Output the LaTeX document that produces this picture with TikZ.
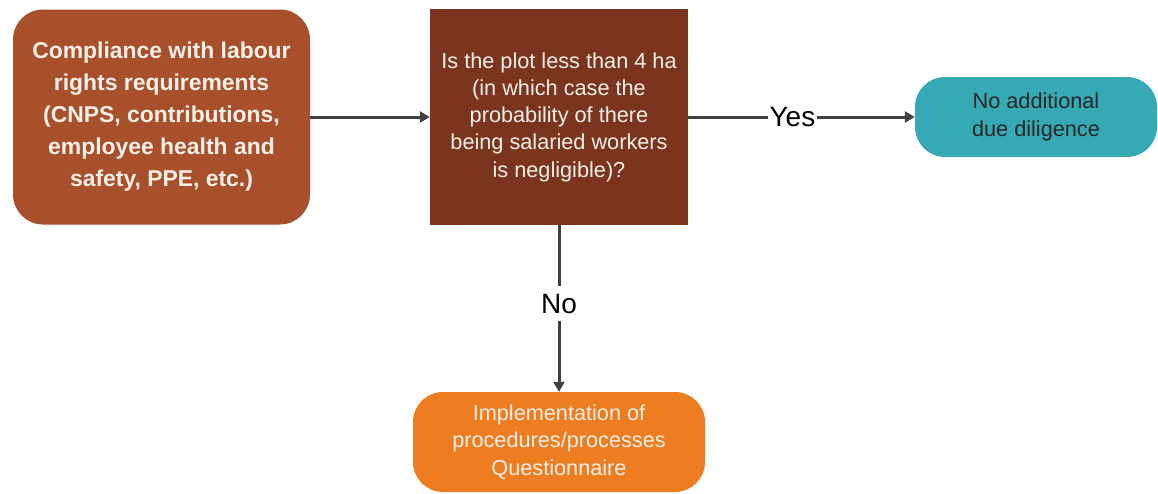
\documentclass[tikz,border=0pt]{standalone}
\usepackage{fontspec}
\setmainfont{Liberation Sans}
\usetikzlibrary{arrows.meta}
\definecolor{rust}{RGB}{168,79,44}
\definecolor{darkbrown}{RGB}{123,52,29}
\definecolor{tealbox}{RGB}{53,170,181}
\definecolor{orangebox}{RGB}{238,125,34}
\definecolor{arrowgray}{RGB}{64,64,64}
\definecolor{cream}{RGB}{250,240,232}
\tikzset{
  box/.style={draw=none, align=center, inner sep=0pt, anchor=center},
  conn/.style={draw=arrowgray, line width=3pt, -{Triangle[length=10pt,width=11pt]}},
  lbl/.style={fill=white, font=\fontsize{28}{32}\selectfont, text=black}
}
\begin{document}
\begin{tikzpicture}[x=1pt,y=-1pt]
\useasboundingbox (0,0) rectangle (1158,493);
\node[box, fill=rust, rounded corners=30pt, minimum width=297pt, minimum height=215pt,
  text=cream, font=\bfseries\fontsize{22.9}{32}\selectfont] (a) at (161.5,117)
  {Compliance with labour\\rights requirements\\(CNPS, contributions,\\employee health and\\safety, PPE, etc.)};
\node[box, fill=darkbrown, minimum width=258pt, minimum height=216pt,
  text=cream, font=\fontsize{21.7}{27.3}\selectfont] (b) at (559,117)
  {Is the plot less than 4 ha\\(in which case the\\probability of there\\being salaried workers\\is negligible)?};
\node[box, fill=tealbox, rounded corners=30pt, minimum width=242pt, minimum height=80pt,
  text=black!85, font=\fontsize{21.7}{28}\selectfont] (c) at (1036,117)
  {No additional\\due diligence};
\node[box, fill=orangebox, rounded corners=30pt, minimum width=292pt, minimum height=100pt,
  text=cream, font=\fontsize{21.7}{27.5}\selectfont] (d) at (559,442)
  {Implementation of\\procedures/processes\\Questionnaire};
\draw[conn] (a.east) -- (b.west);
\draw[conn] (b.east) -- node[lbl, pos=0.46, inner sep=2pt] {Yes} (c.west);
\draw[conn] (b.south) -- node[lbl, pos=0.47, inner ysep=8pt, inner xsep=4pt] {No} (d.north);
\end{tikzpicture}
\end{document}
